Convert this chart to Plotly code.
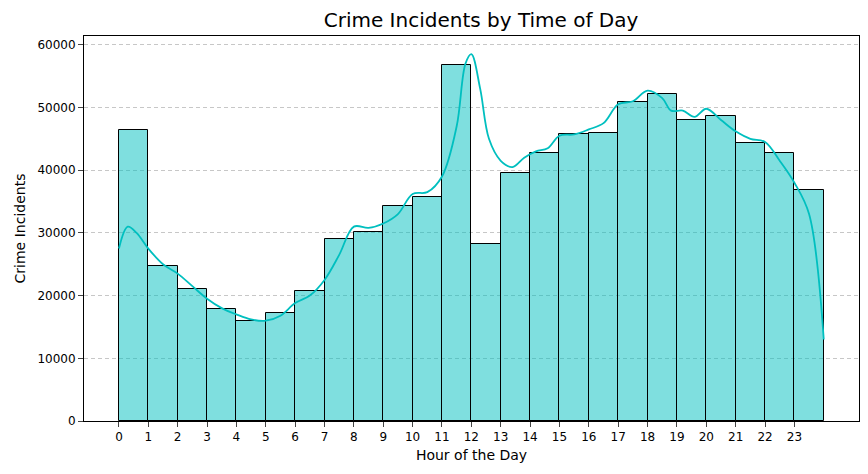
import plotly.graph_objects as go

hours = list(range(24))
counts = [46400, 24800, 21100, 17800, 16000, 17300, 20800, 29100, 30200, 34300,
          35800, 56800, 28300, 39600, 42800, 45700, 46000, 50900, 52100, 48000,
          48700, 44300, 42700, 36800]

# smoothed density curve
kde_x = [0, 0.3, 0.6, 1, 1.5, 2, 2.5, 3, 3.5, 4, 4.5, 5, 5.5, 6, 6.5, 7, 7.5, 8, 8.5, 9,
         9.5, 10, 10.5, 11, 11.5, 11.8, 12, 12.3, 12.6, 13, 13.4, 13.8, 14.2, 14.6, 15,
         15.5, 16, 16.5, 17, 17.5, 18, 18.5, 18.8, 19.2, 19.6, 20, 20.5, 21, 21.5, 22,
         22.5, 23, 23.5, 24]
kde_y = [27500, 31000, 30000, 27500, 25000, 23500, 21500, 19500, 18000, 17000, 16200,
         16000, 16800, 18800, 20000, 22500, 26500, 31000, 30800, 31500, 33000, 36200,
         36500, 39000, 47000, 57000, 58500, 53000, 45000, 41500, 40500, 42000, 43000,
         43500, 45500, 45700, 46500, 47500, 50500, 51000, 52700, 51500, 49500, 49500,
         48500, 49800, 48000, 46200, 45000, 44500, 41500, 38000, 33000, 13000]

fig = go.Figure()
fig.add_trace(go.Bar(x=[h + 0.5 for h in hours], y=counts, width=1,
                     marker=dict(color="rgba(0,191,191,0.5)", line=dict(color="black", width=1))))
fig.add_trace(go.Scatter(x=kde_x, y=kde_y, mode="lines", line=dict(color="#00bfbf", width=1.8, shape="spline")))

fig.update_layout(
    width=868, height=474, plot_bgcolor="white", paper_bgcolor="white",
    showlegend=False, bargap=0,
    margin=dict(l=76, r=17, t=28, b=61),
    font=dict(family="DejaVu Sans", size=12, color="black"),
    title=dict(text="Crime Incidents by Time of Day", x=0.545, xanchor="center",
               y=0.975, yanchor="middle", font=dict(size=20)),
)
fig.update_xaxes(range=[-1.19, 25.2], tickvals=hours, ticks="outside", showgrid=False,
                 showline=True, linecolor="black", mirror=True, zeroline=False, automargin=False,
                 title=dict(text="Hour of the Day", standoff=6), tickfont=dict(size=12))
fig.update_yaxes(range=[0, 61400], dtick=10000, tickformat="d", ticks="outside", showgrid=True,
                 gridcolor="rgba(0,0,0,0.22)", griddash="4px,3px", showline=True,
                 linecolor="black", mirror=True, zeroline=False, automargin=False,
                 title=dict(text="Crime Incidents", standoff=8), tickfont=dict(size=12))
fig.write_html("out.html")
